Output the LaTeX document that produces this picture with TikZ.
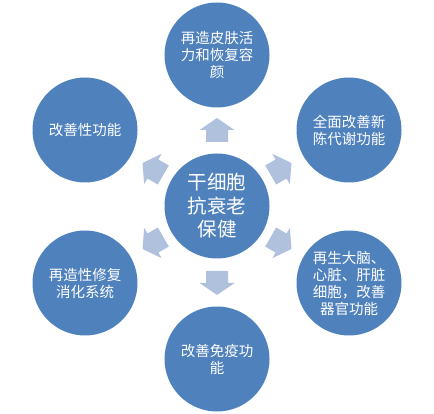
\documentclass[tikz,border=0pt]{standalone}
\usepackage{fontspec}
\setmainfont{Noto Sans CJK SC}
\usetikzlibrary{calc}
\definecolor{circblue}{HTML}{4F81BD}
\definecolor{arrblue}{HTML}{B0C1DE}
\tikzset{
  outer/.style={circle, fill=circblue, minimum size=105pt, inner sep=0pt, text=white,
    align=center, text width=78pt, font=\fontsize{14.5pt}{17pt}\selectfont},
  center/.style={circle, fill=circblue, minimum size=105pt, inner sep=0pt, text=white,
    align=center, text width=70pt, font=\fontsize{19.5pt}{23.5pt}\selectfont},
  bigarrow/.style={fill=arrblue}
}
\newcommand{\ArrowAt}[2]{%
  \fill[bigarrow, shift={(#1)}, rotate=#2]
    (-12pt,-11pt) -- (0pt,-11pt) -- (0pt,-17.5pt) -- (12pt,0pt) -- (0pt,17.5pt) -- (0pt,11pt) -- (-12pt,11pt) -- cycle;}
\begin{document}
\begin{tikzpicture}[x=1pt,y=1pt]
\useasboundingbox (0,0) rectangle (434,-414);
\node[center] (c) at (217,-206) {干细胞\\抗衰老\\保健};
\node[outer] (t) at (217,-55) {再造皮肤活\\力和恢复容\\颜};
\node[outer] (ur) at (349,-130) {全面改善新\\陈代谢功能};
\node[outer] (lr) at (349,-283) {再生大脑、\\心脏、肝脏\\细胞，改善\\器官功能};
\node[outer] (b) at (217,-359) {改善免疫功\\能};
\node[outer] (ll) at (85,-283) {再造性修复\\消化系统};
\node[outer] (ul) at (85,-130) {改善性功能};
\coordinate (a1) at ($(c)+(90:76)$);
\coordinate (a2) at ($(c)+(30:74)$);
\coordinate (a3) at ($(c)+(-30:74)$);
\coordinate (a4) at ($(c)+(-90:77)$);
\coordinate (a5) at ($(c)+(210:74)$);
\coordinate (a6) at ($(c)+(150:74)$);
\ArrowAt{a1}{90}
\ArrowAt{a2}{30}
\ArrowAt{a3}{-30}
\ArrowAt{a4}{-90}
\ArrowAt{a5}{210}
\ArrowAt{a6}{150}
\end{tikzpicture}
\end{document}
